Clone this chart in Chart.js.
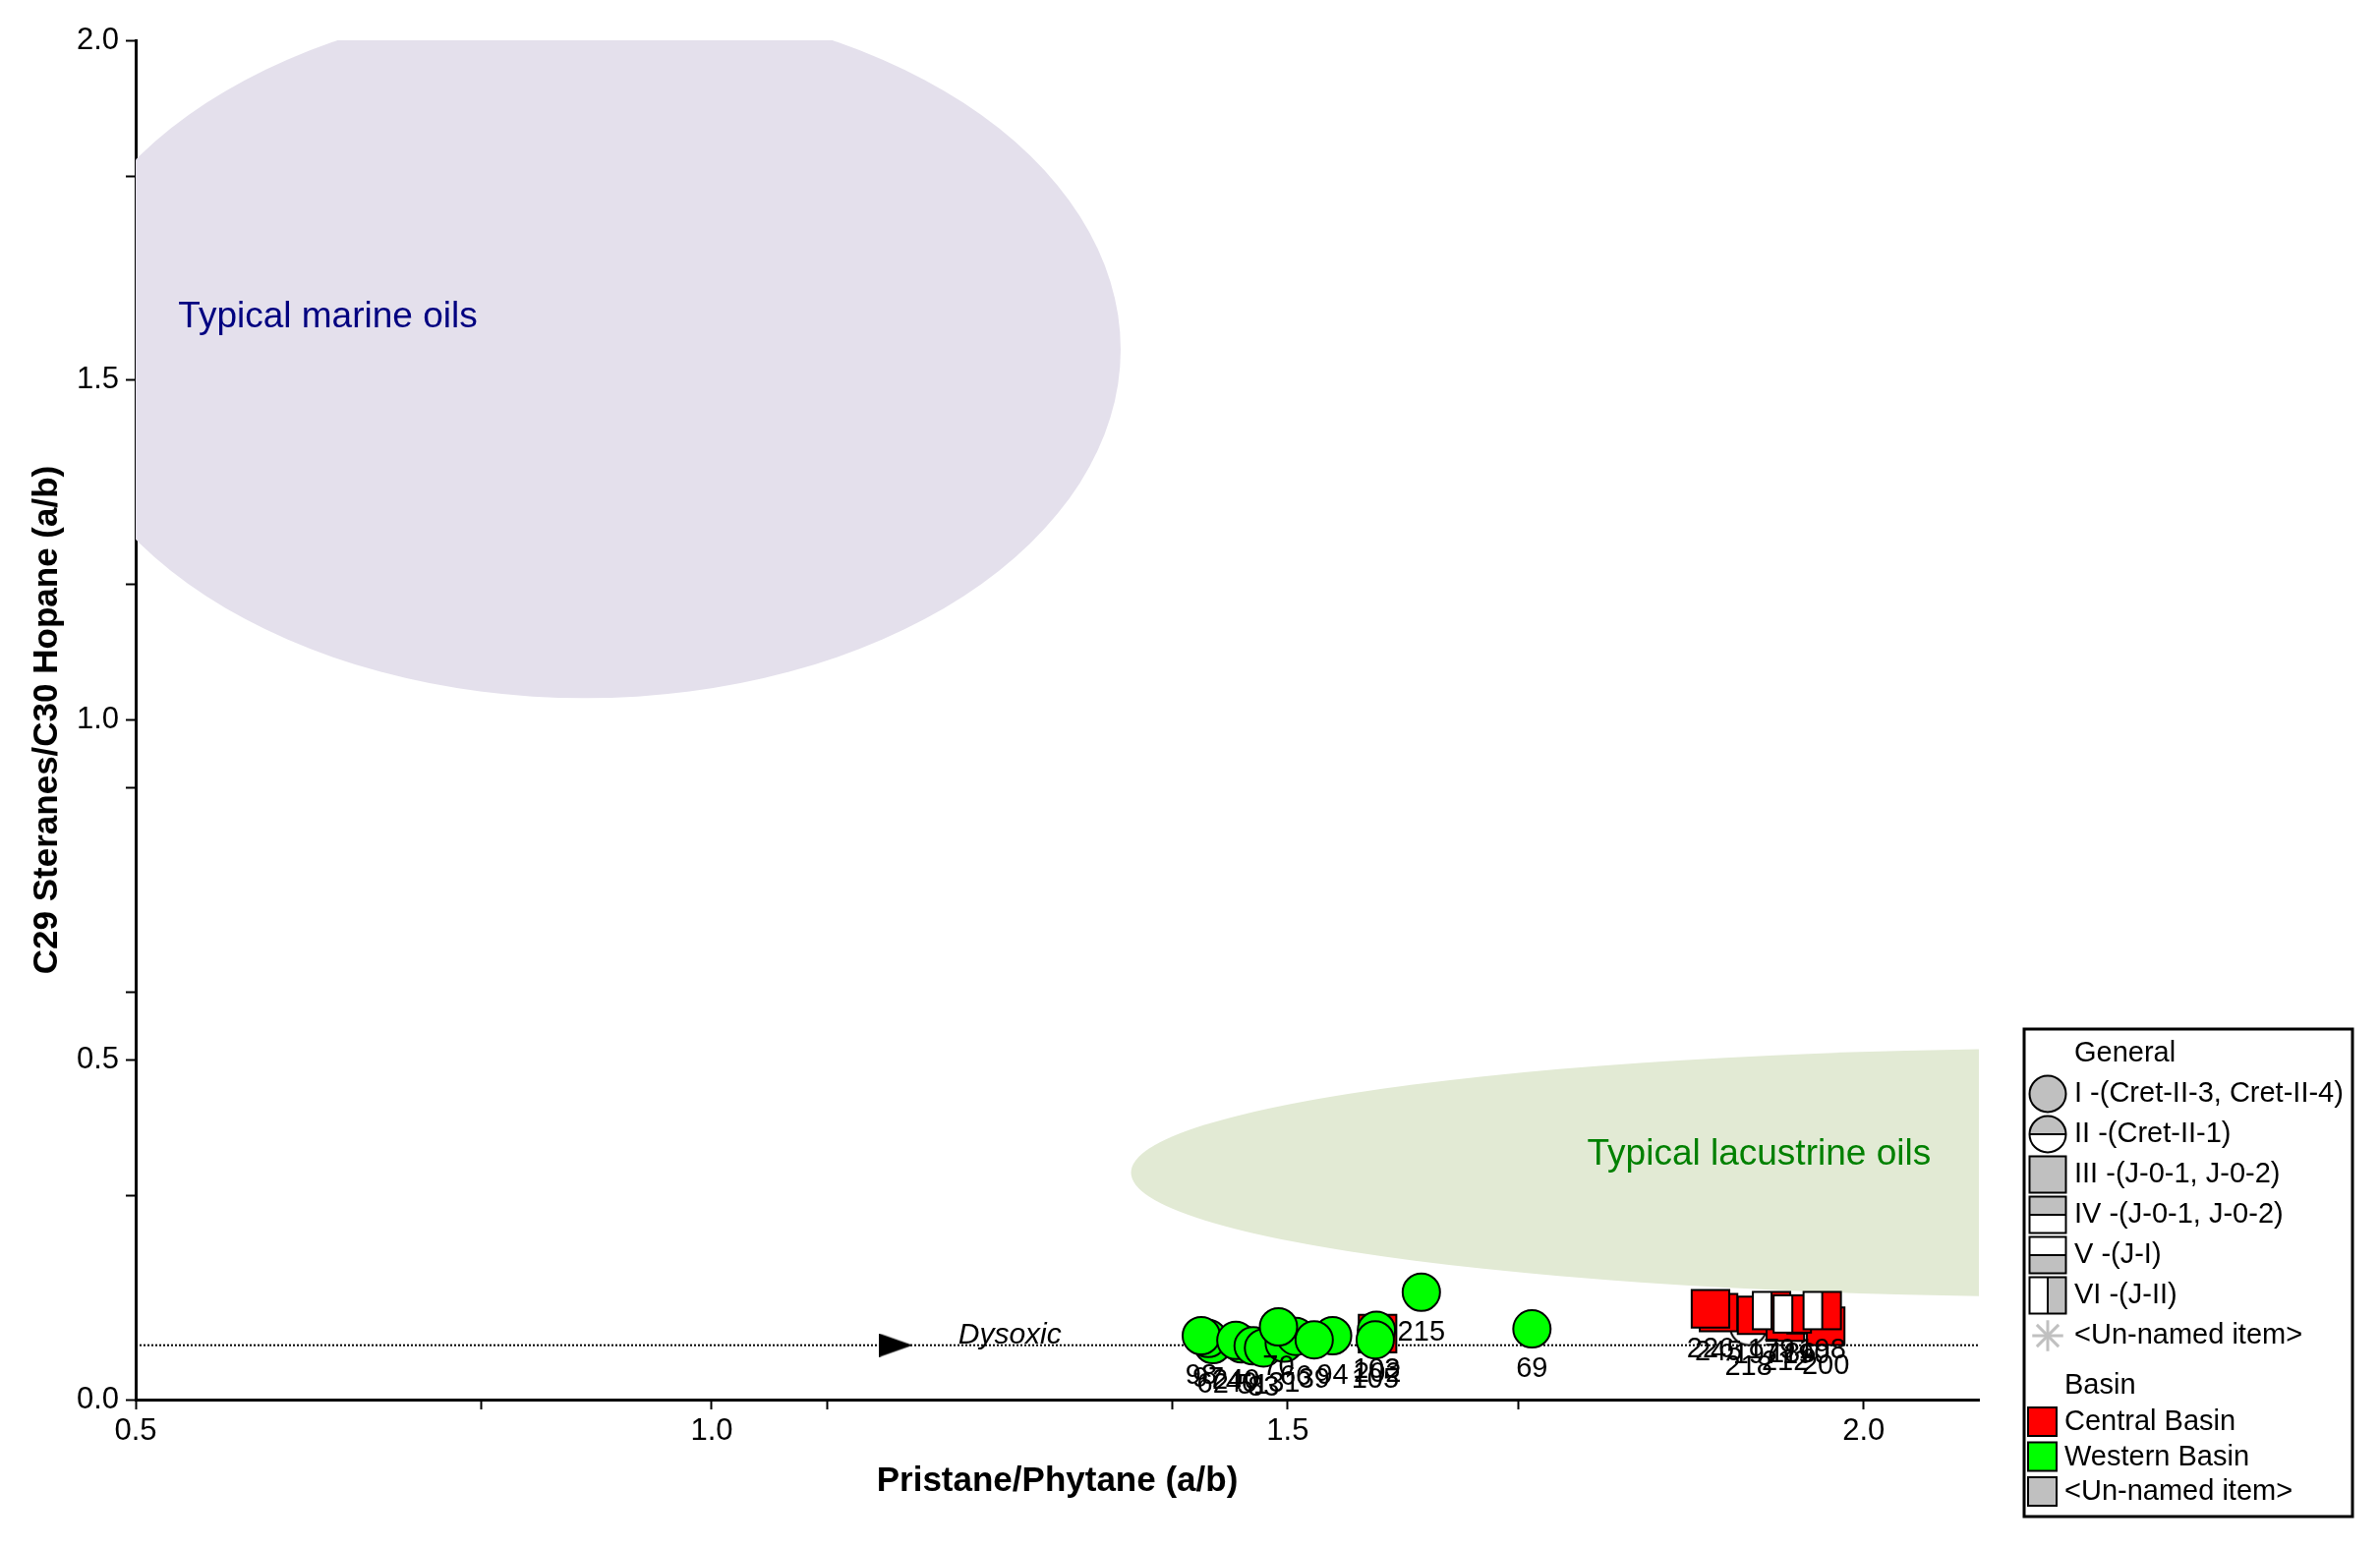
<!DOCTYPE html>
<html>
<head>
<meta charset="utf-8">
<script src="https://cdn.jsdelivr.net/npm/chart.js@4.4.1/dist/chart.umd.min.js"></script>
<style>
  html, body { margin: 0; padding: 0; background: #fff; }
  #wrap { width: 2421px; height: 1575px; position: relative; }
</style>
</head>
<body>
<div id="wrap"><canvas id="chart"></canvas></div>
<script>
// Western Basin oils (type I, green circles)
const westernX = [1.435, 1.431, 1.425, 1.460, 1.455, 1.470, 1.479, 1.497, 1.507, 1.492, 1.539, 1.523, 1.577, 1.576, 1.616, 1.712];
const westernY = [0.081, 0.090, 0.094, 0.082, 0.087, 0.079, 0.076, 0.083, 0.093, 0.107, 0.094, 0.088, 0.102, 0.088, 0.158, 0.104];
const westernLabels = ['62', '97', '98', '40', '240', '51', '83', '31', '66', '70', '94', '39', '103', '105', '215', '69'];

// Central Basin oils, type III (red squares)
const centralX = [1.578, 1.874, 1.867, 1.907, 1.932, 1.950, 1.967];
const centralY = [0.097, 0.128, 0.1335, 0.124, 0.114, 0.125, 0.108];
const centralLabels = ['202', '245', '226', '197', '212', '190', '200'];

// Central Basin oils, type VI (half white / half red squares)
const centralViX = [1.920, 1.938, 1.964];
const centralViY = [0.131, 0.126, 0.131];
const centralViLabels = ['179', '186', '198'];

// Central Basin oils, type II (half circle)
const centralIiX = [1.900];
const centralIiY = [0.107];
const centralIiLabels = ['218'];

// dysoxic boundary
const dysoxicX = [0.5, 2.1];
const dysoxicY = 0.08;
const arrowX = 1.16;

// zones: [centre x, centre y, radius x, radius y]
const marineZone = [0.89, 1.545, 0.465, 0.513];
const lacustrineZone = [2.2, 0.334, 0.836, 0.183];

// axis ticks
const xTicks = [0.5, 0.8, 1.0, 1.1, 1.4, 1.5, 1.7, 2.0];
const yTicks = [0.0, 0.3, 0.5, 0.6, 0.9, 1.0, 1.2, 1.5, 1.8, 2.0];

// legend entries
const generalNames = ['I -(Cret-II-3, Cret-II-4)', 'II -(Cret-II-1)', 'III -(J-0-1, J-0-2)', 'IV -(J-0-1, J-0-2)', 'V -(J-I)', 'VI -(J-II)', '<Un-named item>'];
const generalKinds = ['circle', 'halfCircle', 'square', 'squareTop', 'squareBottom', 'squareRight', 'asterisk'];
const basinNames = ['Central Basin', 'Western Basin', '<Un-named item>'];
const basinColors = ['#ff0000', '#00ff00', '#c0c0c0'];

const FONT = '"Liberation Sans", Arial, sans-serif';
Chart.defaults.font.family = FONT;

const toPoints = (xs, ys) => xs.map((x, i) => ({ x: x, y: Array.isArray(ys) ? ys[i] : ys }));
const isMajor = v => Math.abs(v * 2 - Math.round(v * 2)) < 1e-6;

// draw one marker symbol centred on cx,cy
function drawMarker(ctx, kind, cx, cy, s, fill) {
  const h = s / 2;
  ctx.save();
  ctx.lineWidth = 2;
  ctx.strokeStyle = '#000';
  if (kind === 'circle') {
    ctx.beginPath(); ctx.arc(cx, cy, h, 0, Math.PI * 2);
    ctx.fillStyle = fill; ctx.fill(); ctx.stroke();
  } else if (kind === 'halfCircle') {
    ctx.beginPath(); ctx.arc(cx, cy, h, 0, Math.PI * 2);
    ctx.fillStyle = '#fff'; ctx.fill();
    ctx.beginPath(); ctx.arc(cx, cy, h, Math.PI, Math.PI * 2); ctx.closePath();
    ctx.fillStyle = fill; ctx.fill();
    ctx.beginPath(); ctx.arc(cx, cy, h, 0, Math.PI * 2); ctx.stroke();
    ctx.beginPath(); ctx.moveTo(cx - h, cy); ctx.lineTo(cx + h, cy); ctx.stroke();
  } else if (kind === 'asterisk') {
    ctx.strokeStyle = '#c0c0c0'; ctx.lineWidth = 3;
    for (let k = 0; k < 4; k++) {
      const a = k * Math.PI / 4, r = h * 0.85;
      ctx.beginPath();
      ctx.moveTo(cx - r * Math.cos(a), cy - r * Math.sin(a));
      ctx.lineTo(cx + r * Math.cos(a), cy + r * Math.sin(a));
      ctx.stroke();
    }
  } else {
    ctx.fillStyle = kind === 'square' ? fill : '#fff';
    ctx.fillRect(cx - h, cy - h, s, s);
    ctx.fillStyle = fill;
    if (kind === 'squareTop') ctx.fillRect(cx - h, cy - h, s, h);
    if (kind === 'squareBottom') ctx.fillRect(cx - h, cy, s, h);
    if (kind === 'squareRight') ctx.fillRect(cx, cy - h, h, s);
    ctx.strokeRect(cx - h, cy - h, s, s);
    ctx.beginPath();
    if (kind === 'squareTop' || kind === 'squareBottom') { ctx.moveTo(cx - h, cy); ctx.lineTo(cx + h, cy); }
    if (kind === 'squareRight') { ctx.moveTo(cx, cy - h); ctx.lineTo(cx, cy + h); }
    ctx.stroke();
  }
  ctx.restore();
}

function markerCanvas(kind, fill, s) {
  const c = document.createElement('canvas');
  c.width = s + 4; c.height = s + 4;
  drawMarker(c.getContext('2d'), kind, c.width / 2, c.height / 2, s, fill);
  return c;
}

function arrowCanvas() {
  const c = document.createElement('canvas');
  c.width = 34; c.height = 24;
  const g = c.getContext('2d');
  g.fillStyle = '#000';
  g.beginPath(); g.moveTo(0, 0); g.lineTo(34, 12); g.lineTo(0, 24); g.closePath(); g.fill();
  return c;
}

// background zones and their captions
const zonePlugin = {
  id: 'zones',
  beforeDatasetsDraw(chart) {
    const { ctx, chartArea: a, scales: { x, y } } = chart;
    const ellipse = (z, color) => {
      const cx = x.getPixelForValue(z[0]), cy = y.getPixelForValue(z[1]);
      const rx = Math.abs(x.getPixelForValue(z[0] + z[2]) - cx);
      const ry = Math.abs(y.getPixelForValue(z[1] + z[3]) - cy);
      ctx.beginPath(); ctx.ellipse(cx, cy, rx, ry, 0, 0, Math.PI * 2);
      ctx.fillStyle = color; ctx.fill();
    };
    ctx.save();
    ctx.beginPath(); ctx.rect(a.left, a.top, a.right - a.left, a.bottom - a.top); ctx.clip();
    ellipse(marineZone, '#e4e0ec');
    ellipse(lacustrineZone, '#e2ead4');
    ctx.textBaseline = 'alphabetic';
    ctx.textAlign = 'left';
    ctx.font = '37px ' + FONT;
    ctx.fillStyle = '#000080';
    ctx.fillText('Typical marine oils', x.getPixelForValue(0.537), y.getPixelForValue(1.578));
    ctx.fillStyle = '#008000';
    ctx.fillText('Typical lacustrine oils', x.getPixelForValue(1.760), y.getPixelForValue(0.3456));
    ctx.font = 'italic 30px ' + FONT;
    ctx.fillStyle = '#000';
    ctx.fillText('Dysoxic', x.getPixelForValue(1.214), y.getPixelForValue(0.0824));
    ctx.restore();
  }
};

// sample numbers under each marker
const labelPlugin = {
  id: 'pointLabels',
  afterDatasetsDraw(chart) {
    const ctx = chart.ctx;
    ctx.save();
    ctx.font = '29px ' + FONT;
    ctx.fillStyle = '#000';
    ctx.textAlign = 'center';
    ctx.textBaseline = 'middle';
    chart.data.datasets.forEach((ds, i) => {
      if (!ds.pointLabels) return;
      chart.getDatasetMeta(i).data.forEach((pt, j) => {
        ctx.fillText(ds.pointLabels[j], pt.x, pt.y + 41);
      });
    });
    ctx.restore();
  }
};

// boxed legend at the lower right
const legendPlugin = {
  id: 'boxLegend',
  afterDraw(chart) {
    const { ctx, chartArea: a } = chart;
    const lx = a.right + 46, ly = a.bottom - 377;
    ctx.save();
    ctx.fillStyle = '#fff';
    ctx.fillRect(lx, ly, 334, 496);
    ctx.lineWidth = 3; ctx.strokeStyle = '#000';
    ctx.strokeRect(lx, ly, 334, 496);
    ctx.font = '29px ' + FONT;
    ctx.textAlign = 'left';
    ctx.textBaseline = 'middle';
    ctx.fillStyle = '#000';
    ctx.fillText('General', lx + 51, ly + 25);
    generalNames.forEach((name, i) => {
      const cy = ly + 66 + i * 41;
      drawMarker(ctx, generalKinds[i], lx + 24, cy, 37, '#c0c0c0');
      ctx.fillStyle = '#000';
      ctx.fillText(name, lx + 51, cy);
    });
    ctx.fillText('Basin', lx + 41, ly + 363);
    basinNames.forEach((name, i) => {
      const cy = ly + 400 + i * 35.5;
      ctx.fillStyle = basinColors[i];
      ctx.fillRect(lx + 4, cy - 15, 29, 29);
      ctx.lineWidth = 2; ctx.strokeStyle = '#000';
      ctx.strokeRect(lx + 4, cy - 15, 29, 29);
      ctx.fillStyle = '#000';
      ctx.fillText(name, lx + 41, cy);
    });
    ctx.restore();
  }
};

const tickFont = { size: 31, family: FONT };
const titleFont = { size: 35, weight: 'bold', family: FONT };

new Chart(document.getElementById('chart'), {
  type: 'scatter',
  data: {
    datasets: [
      {
        label: 'Western Basin',
        data: toPoints(westernX, westernY),
        pointLabels: westernLabels,
        pointStyle: 'circle',
        pointRadius: 19,
        backgroundColor: '#00ff00',
        borderColor: '#000',
        borderWidth: 2,
        order: 1
      },
      {
        label: 'Central Basin VI',
        data: toPoints(centralViX, centralViY),
        pointLabels: centralViLabels,
        pointStyle: markerCanvas('squareRight', '#ff0000', 38),
        pointRadius: 19,
        order: 2
      },
      {
        label: 'Central Basin III',
        data: toPoints(centralX, centralY),
        pointLabels: centralLabels,
        pointStyle: 'rect',
        pointRadius: 27,
        backgroundColor: '#ff0000',
        borderColor: '#000',
        borderWidth: 2,
        order: 3
      },
      {
        label: 'Central Basin II',
        data: toPoints(centralIiX, centralIiY),
        pointLabels: centralIiLabels,
        pointStyle: markerCanvas('halfCircle', '#ff0000', 37),
        pointRadius: 19,
        order: 4
      },
      {
        label: 'Dysoxic arrow',
        data: toPoints([arrowX], dysoxicY),
        pointStyle: arrowCanvas(),
        pointRadius: 12,
        order: 5
      },
      {
        label: 'Dysoxic',
        data: toPoints(dysoxicX, dysoxicY),
        showLine: true,
        borderColor: '#000',
        borderWidth: 2,
        borderDash: [2, 2],
        pointRadius: 0,
        order: 6
      }
    ]
  },
  options: {
    responsive: true,
    maintainAspectRatio: false,
    animation: false,
    layout: { padding: { left: 0, top: 41, right: 408, bottom: 0 } },
    plugins: {
      legend: { display: false },
      tooltip: { enabled: false }
    },
    scales: {
      x: {
        type: 'linear',
        min: 0.5,
        max: 2.1,
        afterBuildTicks: s => { s.ticks = xTicks.map(v => ({ value: v })); },
        afterFit: s => { s.height = 151; },
        border: { color: '#000', width: 3 },
        grid: { drawOnChartArea: false, tickLength: 10, tickColor: '#000', tickWidth: 2 },
        ticks: {
          autoSkip: false, maxRotation: 0, padding: 4, color: '#000', font: tickFont,
          callback: v => isMajor(v) ? v.toFixed(1) : ''
        },
        title: {
          display: true, text: 'Pristane/Phytane (a/b)', color: '#000', font: titleFont,
          padding: { top: 0, bottom: 47 }
        }
      },
      y: {
        type: 'linear',
        min: 0,
        max: 2.0,
        afterBuildTicks: s => { s.ticks = yTicks.map(v => ({ value: v })); },
        afterFit: s => { s.width = 138; },
        border: { color: '#000', width: 3 },
        grid: { drawOnChartArea: false, tickLength: 10, tickColor: '#000', tickWidth: 2 },
        ticks: {
          autoSkip: false, padding: 7, color: '#000', font: tickFont,
          callback: v => isMajor(v) ? v.toFixed(1) : ''
        },
        title: {
          display: true, text: 'C29 Steranes/C30 Hopane (a/b)', color: '#000', font: titleFont,
          padding: { top: 27, bottom: 0 }
        }
      }
    }
  },
  plugins: [zonePlugin, labelPlugin, legendPlugin]
});
</script>
</body>
</html>
